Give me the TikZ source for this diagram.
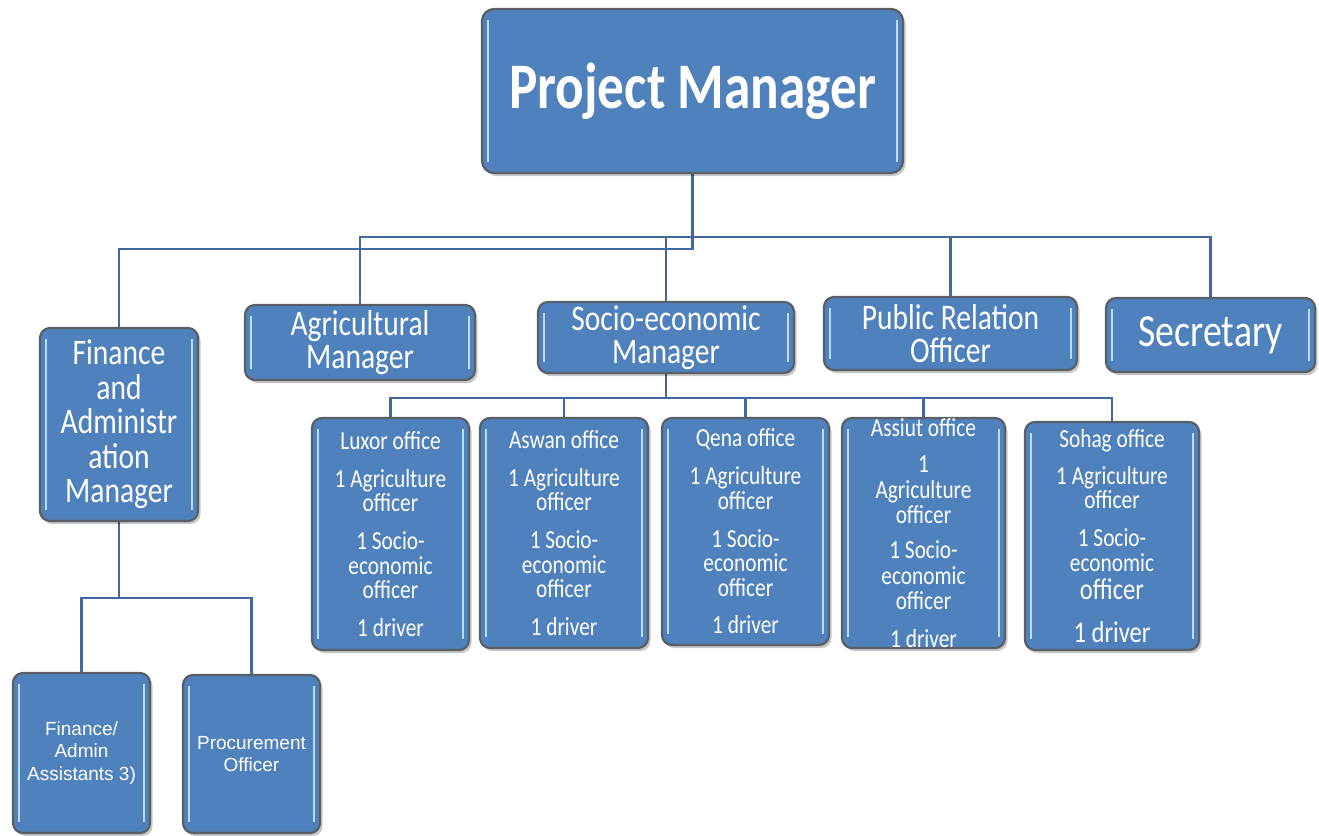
\documentclass[tikz,border=0pt]{standalone}
\usepackage{fontspec}
\setmainfont{Carlito}[FakeStretch=0.82]
\newfontfamily\arialf{Liberation Sans}
\usetikzlibrary{shadows,backgrounds}
\definecolor{boxfill}{HTML}{4F81BD}
\definecolor{boxedge}{HTML}{5A5F66}
\definecolor{hl}{HTML}{B9DBF7}
\definecolor{wirec}{HTML}{41699F}
\tikzset{
 orgbox/.style={draw=boxedge, line width=2.2pt, fill=boxfill, rounded corners=10pt, text=white, align=center, inner sep=0pt,
  drop shadow={shadow xshift=2.5pt, shadow yshift=-3pt, fill=black, opacity=0.22},
  path picture={
   \draw[hl, line width=2.5pt] ([xshift=6pt,yshift=-11pt]path picture bounding box.north west) -- ([xshift=6pt,yshift=11pt]path picture bounding box.south west);
   \draw[hl, line width=2.5pt] ([xshift=-6pt,yshift=-11pt]path picture bounding box.north east) -- ([xshift=-6pt,yshift=11pt]path picture bounding box.south east);
  }},
 wire/.style={draw=wirec, line width=2.8pt},
 midtext/.style={font=\fontsize{36}{33}\selectfont},
 officetext/.style={font=\fontsize{26}{24.5}\selectfont},
 smalltext/.style={font=\arialf\fontsize{19}{22.5}\selectfont},
}
\begin{document}
\begin{tikzpicture}[x=1pt,y=-1pt]
\useasboundingbox (0,0) rectangle (1319,835);

\node[orgbox, minimum width=421pt, minimum height=164pt, rounded corners=12pt, font=\bfseries\fontsize{65}{70}\selectfont] (pm) at (692.5,91) {Project Manager};

\node[orgbox, midtext, minimum width=230pt, minimum height=75pt] (agri) at (360,342.5) {Agricultural\\Manager};
\node[orgbox, midtext, minimum width=256pt, minimum height=71pt] (socio) at (666,337.5) {Socio-economic\\Manager};
\node[orgbox, midtext, minimum width=253pt, minimum height=73pt] (pro) at (950.5,333.5) {Public Relation\\Officer};
\node[orgbox, font=\fontsize{46}{46}\selectfont, minimum width=209pt, minimum height=74pt] (sec) at (1210.5,335) {Secretary};
\node[orgbox, font=\fontsize{36}{34.5}\selectfont, minimum width=158pt, minimum height=193pt] (fin) at (119,424.5) {Finance\\and\\Administr\\ation\\Manager};

\node[orgbox, officetext, minimum width=157pt, minimum height=232pt] (luxor) at (390.5,534) {Luxor office\\[13.5pt]1 Agriculture\\officer\\[13.5pt]1 Socio-\\economic\\officer\\[13pt]1 driver};
\node[orgbox, officetext, minimum width=168pt, minimum height=230pt] (aswan) at (564,533) {Aswan office\\[13.5pt]1 Agriculture\\officer\\[13.5pt]1 Socio-\\economic\\officer\\[13pt]1 driver};
\node[orgbox, officetext, minimum width=167pt, minimum height=227pt] (qena) at (745.5,531.5) {Qena office\\[13.5pt]1 Agriculture\\officer\\[13.5pt]1 Socio-\\economic\\officer\\[13pt]1 driver};
\node[orgbox, font=\fontsize{26}{25.5}\selectfont, minimum width=163pt, minimum height=230pt] (assiut) at (923.5,533) {Assiut office\\[10.5pt]1\\Agriculture\\officer\\[9.5pt]1 Socio-\\economic\\officer\\[12pt]1 driver};
\node[orgbox, officetext, minimum width=174pt, minimum height=228pt] (sohag) at (1112,536) {Sohag office\\[12.5pt]1 Agriculture\\officer\\[13.5pt]1 Socio-\\economic\\[4pt]{\fontsize{30}{28}\selectfont officer}\\[18pt]{\fontsize{30}{28}\selectfont 1 driver}};

\node[orgbox, smalltext, minimum width=137pt, minimum height=160pt] (fa) at (81.5,753) {Finance/\\Admin\\Assistants 3)};
\node[orgbox, smalltext, minimum width=137pt, minimum height=158pt] (proc) at (251.5,754) {Procurement\\Officer};

\coordinate (busA) at (692.5,237);
\coordinate (busB) at (692.5,249);
\coordinate (obus) at (666,398);
\coordinate (fbus) at (119,598);

\begin{pgfonlayer}{background}
\draw[wire] (pm.south) -- (busB) -| (fin.north);
\draw[wire] (agri.north) |- (busA) -| (sec.north);
\draw[wire] (busA) -| (pro.north);
\draw[wire] (busA) -| (socio.north);
\draw[wire] (socio.south) -- (obus);
\draw[wire] (luxor.north) |- (obus) -| (sohag.north);
\draw[wire] (obus) -| (aswan.north);
\draw[wire] (obus) -| (qena.north);
\draw[wire] (obus) -| (assiut.north);
\draw[wire] (fin.south) -- (fbus);
\draw[wire] (fa.north) |- (fbus) -| (proc.north);
\end{pgfonlayer}
\end{tikzpicture}
\end{document}
